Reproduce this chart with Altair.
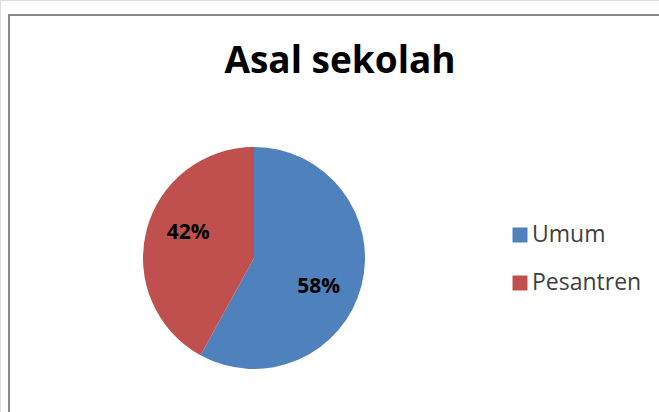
import altair as alt
import pandas as pd

categories = ["Umum", "Pesantren"]
values = [58, 42]
labels = ["58%", "42%"]
colors = ["#4F81BD", "#C0504D"]
title_text = "Asal sekolah"

df = pd.DataFrame({"cat": categories, "val": values, "label": labels, "order": [0, 1]})

CX, CY, R = 254, 258, 111
color_scale = alt.Scale(domain=categories, range=colors)

pie = alt.Chart(df).mark_arc(radius=R, stroke=None).encode(
    theta=alt.Theta("val:Q", stack=True),
    color=alt.Color("cat:N", scale=color_scale, legend=None),
    order=alt.Order("order:Q"),
    x=alt.value(CX),
    y=alt.value(CY),
)

def label_layer(cat, dx, dy):
    return alt.Chart(df).mark_text(
        radius=71, font="Open Sans", fontWeight="bold", fontSize=21, color="#000000",
        baseline="middle", align="center", dx=dx, dy=dy
    ).encode(
        theta=alt.Theta("val:Q", stack=True),
        order=alt.Order("order:Q"),
        text=alt.condition(alt.datum.cat == cat, "label:N", alt.value("")),
        x=alt.value(CX),
        y=alt.value(CY),
    )

lab_umum = label_layer("Umum", -4, 11)
lab_pes = label_layer("Pesantren", 3, -7)

title = alt.Chart(pd.DataFrame({"t": [title_text]})).mark_text(
    font="Open Sans", fontWeight="bold", fontSize=37, color="#000000",
    align="center", baseline="alphabetic"
).encode(text="t:N", x=alt.value(340), y=alt.value(73))

leg_df = pd.DataFrame({"cat": categories, "ypos": [235, 283]})
leg_sq = alt.Chart(leg_df).mark_square(size=225, opacity=1, filled=True).encode(
    x=alt.value(520),
    y=alt.Y("ypos:Q", scale=None),
    color=alt.Color("cat:N", scale=color_scale, legend=None),
)
leg_txt = alt.Chart(leg_df).mark_text(
    font="Open Sans", fontSize=23, color="#404040", align="left", baseline="middle"
).encode(
    x=alt.value(532),
    y=alt.Y("ypos:Q", scale=None),
    text="cat:N",
)

border_left = alt.Chart(pd.DataFrame({"a": [0]})).mark_rule(color="#888888", strokeWidth=2).encode(
    x=alt.value(9), y=alt.value(14), y2=alt.value(412)
)
border_top = alt.Chart(pd.DataFrame({"a": [0]})).mark_rule(color="#888888", strokeWidth=2).encode(
    x=alt.value(8), x2=alt.value(659), y=alt.value(15)
)

chart = alt.layer(pie, lab_umum, lab_pes, title, leg_sq, leg_txt, border_left, border_top).properties(
    width=659, height=412, padding=0, autosize=alt.AutoSizeParams(type="none")
).configure_view(stroke=None, strokeWidth=0).configure(background="white")

chart.save("out.html", embed_options={"renderer": "svg", "actions": False})
